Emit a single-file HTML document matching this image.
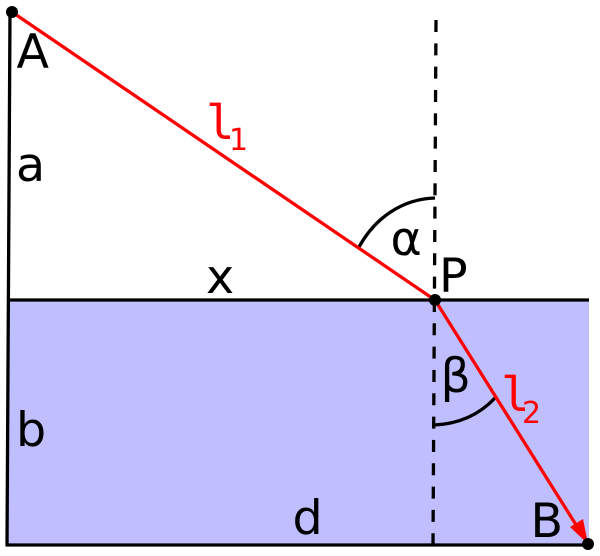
<!DOCTYPE html>
<html><head><meta charset="utf-8"><style>html,body{margin:0;padding:0;background:#fff}svg{display:block}text{font-family:"DejaVu Sans",sans-serif;font-size:47.5px;fill:#000}</style></head>
<body><svg width="600" height="556" viewBox="0 0 600 556" xmlns="http://www.w3.org/2000/svg">
<rect x="8" y="300" width="581" height="245" fill="#bfbfff"/>
<g fill="none" stroke="#000" stroke-width="3.3">
<path d="M10 12L7 545"/>
<path d="M8 300H589"/>
<path d="M5.5 545H588"/>
<path d="M436 20L433 545" stroke-dasharray="12 11.33"/>
<path d="M359 247C375 218 402 199 435 198"/>
<path d="M434 425C458 424 479 415 495 398"/>
</g>
<path d="M12 12L435 300L578 528" fill="none" stroke="#f00" stroke-width="3.3"/>
<path d="M588 544L570 527L583 519Z" fill="#f00"/>
<circle cx="12" cy="12" r="6"/><circle cx="435" cy="300" r="6"/><circle cx="588" cy="544" r="6"/>
<text x="16.5" y="68">A</text>
<text x="16" y="181">a</text>
<text x="16" y="446">b</text>
<text x="206" y="293">x</text>
<text x="292.5" y="534">d</text>
<text x="530.5" y="537">B</text>
<text x="439" y="292">P</text>
<text x="390.5" y="255">α</text>
<text x="440.5" y="392">β</text>
<text x="206" y="139" style="font-family:'DejaVu Sans Mono',monospace;fill:#f00">l</text>
<text x="229" y="150" style="font-size:30px;fill:#f00">1</text>
<text x="501" y="411" style="font-family:'DejaVu Sans Mono',monospace;fill:#f00">l</text>
<text x="522" y="423" style="font-size:30px;fill:#f00">2</text>
</svg></body></html>
